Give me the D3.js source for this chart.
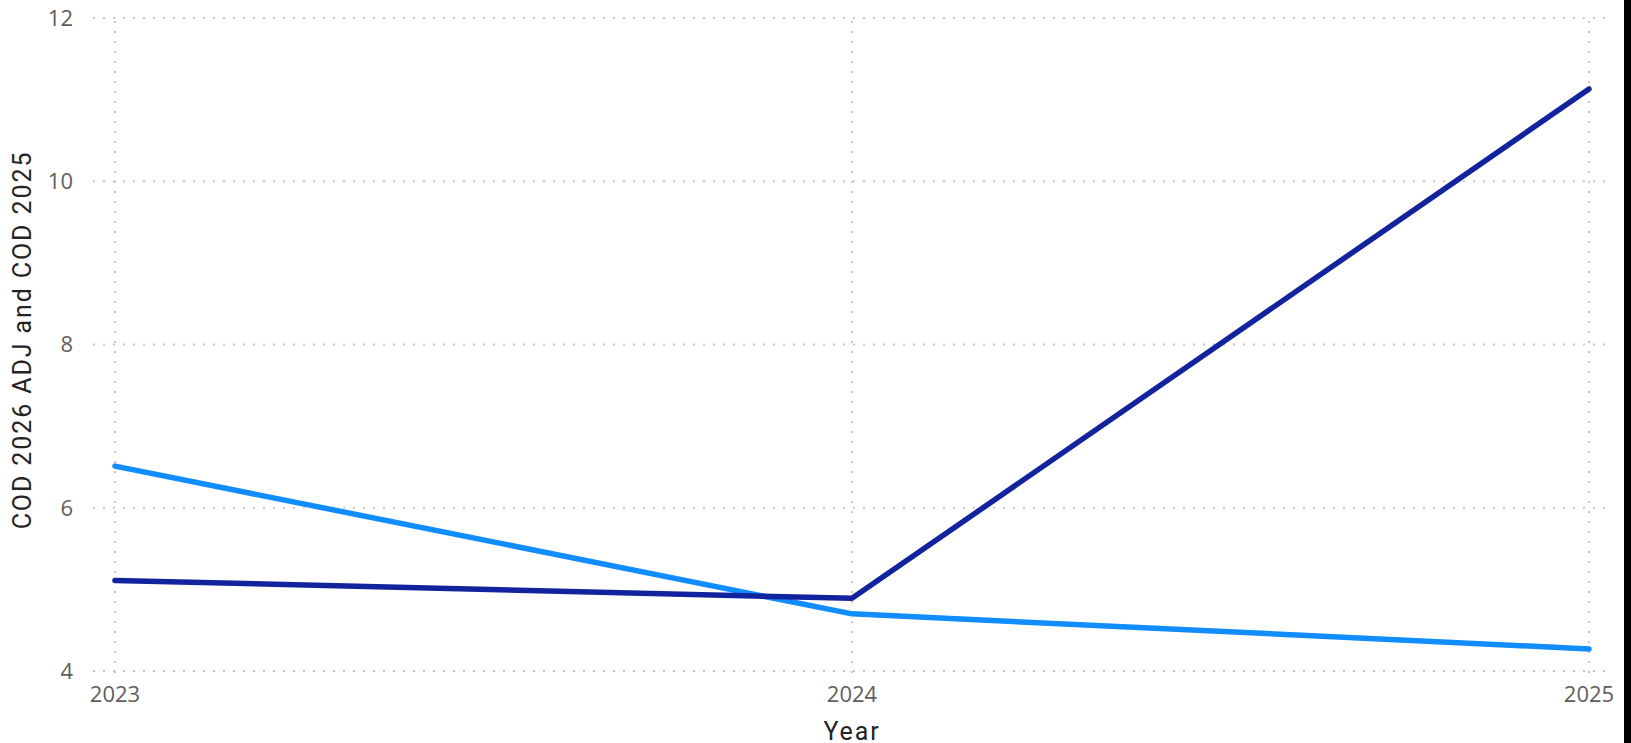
<!DOCTYPE html>
<html>
<head>
<meta charset="utf-8">
<script src="https://cdn.jsdelivr.net/npm/d3@7/dist/d3.min.js"></script>
<style>
  html, body { margin: 0; padding: 0; background: #fff; overflow: hidden; }
  svg { display: block; }
  .tick-label { font-family: "Open Sans", "Noto Sans", sans-serif; font-size: 22px; fill: #605E5C; }
  .axis-title { font-family: Roboto, "DejaVu Sans", sans-serif; font-size: 25px; font-weight: 400; letter-spacing: 1.9px; fill: #252423; }
</style>
</head>
<body>
<svg id="chart" width="1631" height="743"></svg>
<script>
// Data
const years = ["2023", "2024", "2025"];
const cod2026Adj = [6.51, 4.70, 4.27];   // light blue
const cod2025 = [5.11, 4.89, 11.13];     // dark blue
const yTicks = [4, 6, 8, 10, 12];

const width = 1631, height = 743;
const svg = d3.select("#chart");

// Scales
const x = d3.scalePoint().domain(years).range([115, 1589]);
const y = d3.scaleLinear().domain([4, 12]).range([671, 18]);

// Gridlines (dotted)
const grid = svg.append("g");
grid.selectAll(".hgrid")
    .data(yTicks)
    .join("line")
    .attr("x1", 93).attr("x2", 1606)
    .attr("y1", d => y(d)).attr("y2", d => y(d))
    .attr("stroke", "#C8C6C4")
    .attr("stroke-width", 2)
    .attr("stroke-dasharray", "2,8");

grid.selectAll(".vgrid")
    .data(years)
    .join("line")
    .attr("x1", d => x(d)).attr("x2", d => x(d))
    .attr("y1", 21).attr("y2", 678)
    .attr("stroke", "#C8C6C4")
    .attr("stroke-width", 2)
    .attr("stroke-dasharray", "2,8");

// Y tick labels
svg.append("g").selectAll("text")
    .data(yTicks)
    .join("text")
    .attr("class", "tick-label")
    .attr("x", 73)
    .attr("y", d => y(d))
    .attr("dy", "0.36em")
    .attr("text-anchor", "end")
    .text(d => d);

// X tick labels
svg.append("g").selectAll("text")
    .data(years)
    .join("text")
    .attr("class", "tick-label")
    .attr("x", d => x(d))
    .attr("y", 702)
    .attr("text-anchor", "middle")
    .text(d => d);

// Axis titles
svg.append("text")
    .attr("class", "axis-title")
    .attr("x", 852)
    .attr("y", 740)
    .attr("text-anchor", "middle")
    .text("Year");

svg.append("text")
    .attr("class", "axis-title")
    .attr("transform", "translate(31,340) rotate(-90)")
    .attr("text-anchor", "middle")
    .text("COD 2026 ADJ and COD 2025");

// Lines
const line = d3.line()
    .x((d, i) => x(years[i]))
    .y(d => y(d));

const series = [
    { values: cod2026Adj, color: "#118DFF" },
    { values: cod2025, color: "#12239E" }
];

svg.append("g").selectAll("path")
    .data(series)
    .join("path")
    .attr("d", d => line(d.values))
    .attr("fill", "none")
    .attr("stroke", d => d.color)
    .attr("stroke-width", 5.5)
    .attr("stroke-linecap", "round")
    .attr("stroke-linejoin", "round");

// Black edge at right
svg.append("rect")
    .attr("x", 1624).attr("y", 0)
    .attr("width", width - 1624).attr("height", height)
    .attr("fill", "#000");
</script>
</body>
</html>
